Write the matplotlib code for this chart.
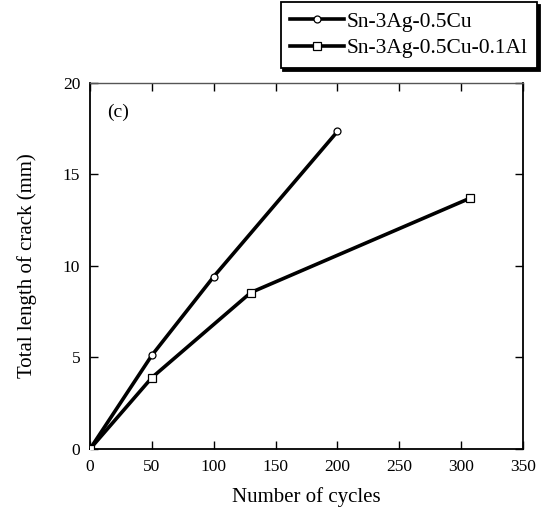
import numpy as np
import matplotlib.pyplot as plt

plt.rcParams['font.family'] = ['Liberation Serif', 'DejaVu Serif']

cycles_a = [0, 50, 100, 200]
crack_a = [0, 5.12, 9.42, 17.35]
cycles_b = [0, 50, 130, 307]
crack_b = [0, 3.9, 8.55, 13.7]
labels = ['Sn-3Ag-0.5Cu', 'Sn-3Ag-0.5Cu-0.1Al']

fig = plt.figure(figsize=(5.41, 5.13), dpi=100)
ax = fig.add_axes([0.1664, 0.1248, 0.8003, 0.7134])

ax.plot(cycles_a, crack_a, color='black', lw=2.6, marker='o', ms=5,
        mfc='white', mec='black', mew=0.9, label=labels[0], zorder=3)
ax.plot(cycles_b, crack_b, color='black', lw=2.6, marker='s', ms=6,
        mfc='white', mec='black', mew=0.9, label=labels[1], zorder=3)

ax.set_xlim(0, 350)
ax.set_ylim(0, 20)
ax.set_xticks(np.arange(0, 351, 50))
ax.set_yticks(np.arange(0, 21, 5))
ax.tick_params(direction='in', length=6, width=1, top=True, right=True,
               labelsize=12.5, pad=7)
for s in ['left', 'bottom', 'right']:
    ax.spines[s].set_linewidth(1.3)
ax.spines['top'].set_linewidth(1.0)
ax.spines['top'].set_color('#555555')

ax.set_xlabel('Number of cycles', fontsize=15, labelpad=9)
ax.set_ylabel('Total length of crack (mm)', fontsize=15, labelpad=19)
ax.text(0.04, 0.92, '(c)', transform=ax.transAxes, fontsize=14,
        ha='left', va='center')

leg = fig.legend(loc='upper right', bbox_to_anchor=(0.9926, 0.996),
                 borderaxespad=0,
                 fontsize=15.5, handlelength=2.5, handletextpad=0.1,
                 borderpad=0.45, labelspacing=0.3, fancybox=False,
                 shadow={'color': 'black', 'alpha': 1.0}, framealpha=1)
leg.get_frame().set_edgecolor('black')
leg.get_frame().set_linewidth(1.3)

fig.savefig('out.png', dpi=100)
